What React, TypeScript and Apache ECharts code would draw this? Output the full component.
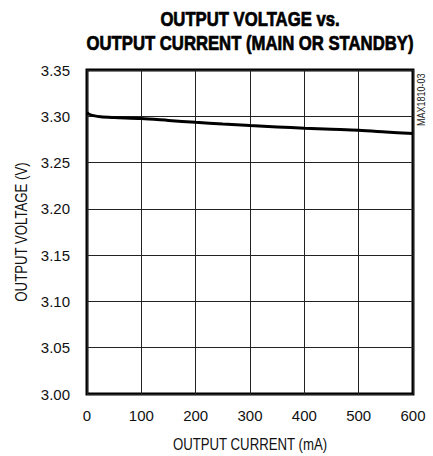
import React, { useEffect, useRef } from "react";
import * as echarts from "echarts";

const currentMA = [0, 4, 12, 25, 50, 100, 150, 200, 250, 300, 350, 400, 450, 500, 550, 600];
const voltageV = [3.304, 3.3022, 3.3007, 3.2994, 3.2986, 3.2975, 3.2955, 3.2935, 3.2917, 3.29, 3.2885, 3.2871, 3.286, 3.2849, 3.2831, 3.2813];
const titleLines = ["OUTPUT VOLTAGE vs.", "OUTPUT CURRENT (MAIN OR STANDBY)"];
const xName = "OUTPUT CURRENT (mA)";
const yName = "OUTPUT VOLTAGE (V)";
const figId = "MAX1810-03";

const FONT = "'Liberation Sans', Arial, Helvetica, sans-serif";

const GRID = { left: 87, right: 20, top: 70, bottom: 62 };
const W = 433;
const H = 456;
const plotCx = GRID.left + (W - GRID.left - GRID.right) / 2;
const plotCy = GRID.top + (H - GRID.top - GRID.bottom) / 2;

export default function App() {
  const ref = useRef<HTMLDivElement>(null);
  useEffect(() => {
    if (!ref.current) return;
    const chart = echarts.init(ref.current, null, { renderer: "svg" });
    const titleStyle = {
      fontFamily: FONT,
      fontWeight: "bold",
      fontSize: 20,
      fill: "#000",
      stroke: "#000",
      lineWidth: 0.7,
      textAlign: "center",
      textVerticalAlign: "middle",
    };
    const nameStyle = {
      fontFamily: FONT,
      fontSize: 16.5,
      fill: "#111",
      textAlign: "center",
      textVerticalAlign: "middle",
    };
    chart.setOption({
      animation: false,
      backgroundColor: "#fff",
      grid: {
        ...GRID,
        show: true,
        borderColor: "#000",
        borderWidth: 3,
        backgroundColor: "transparent",
      },
      xAxis: {
        type: "value",
        min: 0,
        max: 600,
        interval: 100,
        axisLine: { show: false },
        axisTick: { show: false },
        axisLabel: { fontFamily: FONT, fontSize: 15, color: "#111", margin: 14 },
        splitLine: { show: true, lineStyle: { color: "#222", width: 1 } },
      },
      yAxis: {
        type: "value",
        min: 3.0,
        max: 3.35,
        interval: 0.05,
        axisLine: { show: false },
        axisTick: { show: false },
        axisLabel: {
          fontFamily: FONT,
          fontSize: 15,
          color: "#111",
          margin: 17,
          formatter: (v: number) => v.toFixed(2),
        },
        splitLine: { show: true, lineStyle: { color: "#222", width: 1 } },
      },
      graphic: [
        {
          type: "text",
          x: plotCx,
          y: 19,
          scaleX: 0.835,
          style: { ...titleStyle, text: titleLines[0] },
        },
        {
          type: "text",
          x: plotCx,
          y: 43,
          scaleX: 0.835,
          style: { ...titleStyle, text: titleLines[1] },
        },
        {
          type: "text",
          x: plotCx,
          y: 444,
          scaleX: 0.8,
          style: { ...nameStyle, text: xName },
        },
        {
          type: "text",
          x: 21,
          y: plotCy,
          rotation: Math.PI / 2,
          scaleX: 0.8,
          style: { ...nameStyle, text: yName },
        },
        {
          type: "text",
          x: 421,
          y: 126,
          rotation: Math.PI / 2,
          scaleX: 0.9,
          style: {
            text: figId,
            fontFamily: FONT,
            fontSize: 10,
            fill: "#222",
            textAlign: "left",
            textVerticalAlign: "middle",
          },
        },
      ],
      series: [
        {
          type: "line",
          data: currentMA.map((x, i) => [x, voltageV[i]]),
          showSymbol: false,
          smooth: 0.3,
          lineStyle: { color: "#000", width: 3 },
          z: 5,
        },
      ],
    });
    return () => chart.dispose();
  }, []);
  return (
    <div
      ref={ref}
      style={{ position: "absolute", left: 0, top: 0, width: W, height: H }}
    />
  );
}
